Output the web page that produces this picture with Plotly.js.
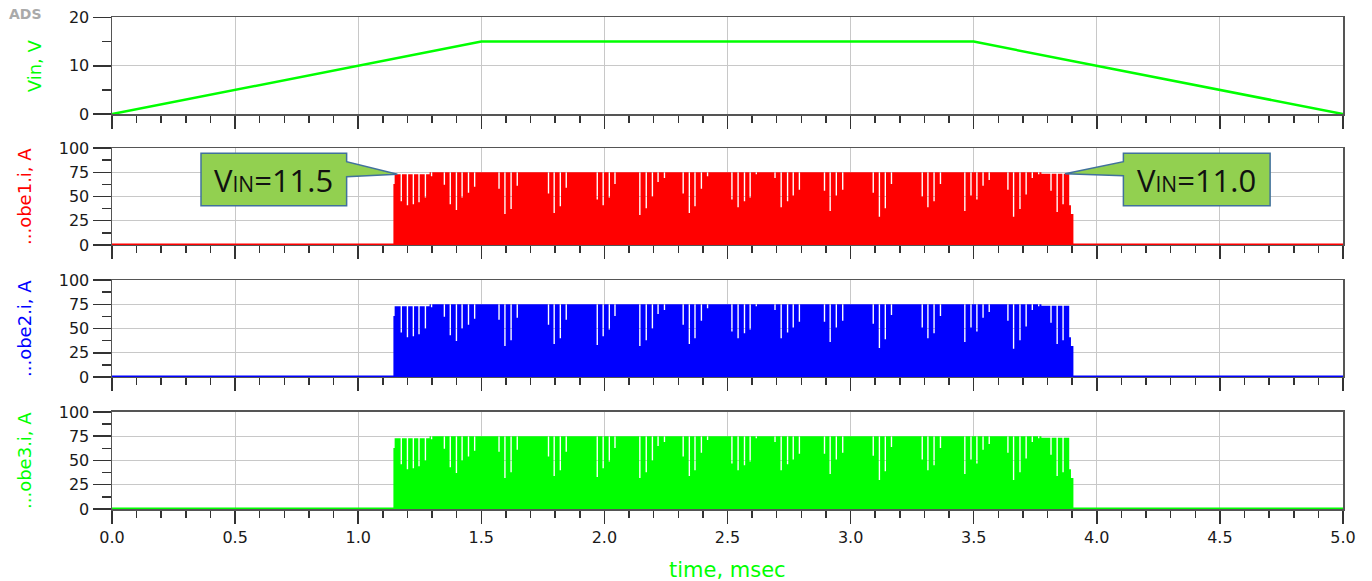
<!DOCTYPE html>
<html>
<head>
<meta charset="utf-8">
<script src="https://cdn.plot.ly/plotly-3.0.1.min.js"></script>
<style>html,body{margin:0;padding:0;background:#fff;}#chart{width:1372px;height:581px;}</style>
</head>
<body>
<div id="chart"></div>
<script>
// ---------------- data ----------------
const simTime = [0, 5.0];                 // msec, simulation span
const vinTime = [0, 1.5, 3.5, 5.0];       // msec
const vinVolt = [0, 15, 15, 0];           // V

// plateau of the switching-current envelope (boundaries in msec, level in A for each interval)
const levelTimes  = [1.143, 1.148, 1.29, 3.775, 3.888, 3.895, 3.905];
const levelValues = [63, 73, 75, 73.5, 41, 32];

// times of the low-peak cycles (msec)
const dipTimes = [1.175,1.200,1.224,1.247,1.273,1.298,1.350,1.374,1.399,1.422,1.448,1.473,
  1.572,1.596,1.621,1.646,1.773,1.796,1.821,1.845,1.971,1.995,2.020,2.043,
  2.144,2.170,2.195,2.218,2.244,2.320,2.345,2.368,2.394,2.419,2.518,2.543,2.569,2.592,2.617,
  2.693,2.718,2.744,2.767,2.792,2.894,2.917,2.942,2.968,3.092,3.117,3.141,3.166,
  3.291,3.314,3.339,3.365,3.464,3.489,3.513,3.538,3.563,3.639,3.662,3.688,3.713,3.738,3.764,
  3.814,3.839,3.863];
// peak current of those cycles (A)
const dipProbe1 = [45,41,42,44,49,71,62,42,36,49,54,60,58,32,37,61,53,33,40,59,47,41,49,63,
  31,38,50,65,69,53,33,40,58,71,47,39,45,49,73,69,39,45,51,57,56,35,51,57,54,29,38,63,
  50,39,45,63,35,51,47,61,67,57,29,37,52,69,73,56,34,42];
const dipProbe2 = [46,41,42,44,50,72,62,43,37,50,54,60,59,32,38,61,54,34,40,59,33,42,49,63,
  32,38,50,65,69,54,34,40,58,71,47,40,45,49,73,69,40,46,51,57,57,36,51,58,55,30,39,64,
  51,40,45,63,36,51,47,61,67,58,29,38,52,69,73,56,34,38];
const dipProbe3 = [46,41,42,44,50,72,62,43,37,50,54,60,59,32,38,61,54,34,40,59,33,42,49,63,
  32,38,50,65,69,54,34,40,58,71,47,40,45,49,73,69,40,46,51,57,57,36,51,58,55,30,39,64,
  51,40,45,63,36,51,47,61,67,58,30,38,52,69,73,56,34,38];

const xTicks = [0,0.5,1.0,1.5,2.0,2.5,3.0,3.5,4.0,4.5,5.0];
const xTickText = ['0.0','0.5','1.0','1.5','2.0','2.5','3.0','3.5','4.0','4.5','5.0'];

// ---------------- build envelopes ----------------
const HW = 0.0028;
function envelope(depths){
  const x=[levelTimes[0]], y=[0];
  let di=0;
  for(let s=0;s<levelValues.length;s++){
    const a=levelTimes[s], b=levelTimes[s+1], L=levelValues[s];
    x.push(a); y.push(L);
    while(di<dipTimes.length && dipTimes[di]<b){
      if(dipTimes[di]>=a){
        const td=dipTimes[di];
        x.push(td-HW,td-HW,td+HW,td+HW); y.push(L,depths[di],depths[di],L);
      }
      di++;
    }
    x.push(b); y.push(L);
  }
  x.push(levelTimes[levelTimes.length-1]); y.push(0);
  return {x,y};
}

const RED='#ff0000', BLUE='#0000ff', GREEN='#00ff00';
const traces=[];
traces.push({x:vinTime,y:vinVolt,xaxis:'x',yaxis:'y',mode:'lines',line:{color:GREEN,width:2.5},cliponaxis:false,hoverinfo:'skip'});
[[dipProbe1,RED,'2'],[dipProbe2,BLUE,'3'],[dipProbe3,GREEN,'4']].forEach(([d,c,k])=>{
  traces.push({x:simTime,y:[0,0],xaxis:'x'+k,yaxis:'y'+k,mode:'lines',line:{color:c,width:3},cliponaxis:false,hoverinfo:'skip'});
  const e=envelope(d);
  traces.push({x:e.x,y:e.y,xaxis:'x'+k,yaxis:'y'+k,mode:'lines',fill:'toself',fillcolor:c,line:{width:0,color:c},hoverinfo:'skip'});
});

// ---------------- layout ----------------
const FONT='DejaVu Sans';
function xAxis(anchor,labels){
  return {anchor:anchor,range:[0,5],tickmode:'array',tickvals:xTicks,ticktext:xTickText,
    showticklabels:labels,ticks:'outside',ticklen:13,tickwidth:1.5,tickcolor:'#333',
    minor:{dtick:0.1,tick0:0,ticks:'outside',ticklen:7,tickwidth:1.5,tickcolor:'#333',showgrid:false},
    showgrid:true,gridcolor:'#c8c8c8',gridwidth:1,showline:true,linecolor:'#555',linewidth:1.5,mirror:true,
    zeroline:false,tickfont:{family:FONT,size:16,color:'#1a1a1a'}};
}
function yAxis(dom,max,dt){
  return {domain:dom,range:[0,max],dtick:dt,tick0:0,ticks:'outside',ticklen:18,tickwidth:1.5,tickcolor:'#333',
    minor:{dtick:dt/2,ticks:'outside',ticklen:9,tickwidth:1.5,tickcolor:'#333',showgrid:false},
    showgrid:true,gridcolor:'#c8c8c8',gridwidth:1,showline:true,linecolor:'#555',linewidth:1.5,mirror:true,
    zeroline:false,tickfont:{family:FONT,size:16,color:'#1a1a1a'}};
}

function callout(xb0,xb1,yb0,yb1,p1,p2,tx,ty,side){
  let path;
  if(side==='right'){
    path=`M ${xb0},${yb1} L ${xb1},${yb1} L ${xb1},${p1} L ${tx},${ty} L ${xb1},${p2} L ${xb1},${yb0} L ${xb0},${yb0} Z`;
  } else {
    path=`M ${xb0},${yb1} L ${xb1},${yb1} L ${xb1},${yb0} L ${xb0},${yb0} L ${xb0},${p2} L ${tx},${ty} L ${xb0},${p1} Z`;
  }
  return {type:'path',xref:'x2',yref:'y2',path:path,fillcolor:'#92d050',line:{color:'#41719c',width:1.5},layer:'above'};
}

const layout={
  width:1372,height:581,margin:{l:112,r:29,t:17,b:72},
  paper_bgcolor:'#ffffff',plot_bgcolor:'#ffffff',showlegend:false,
  xaxis:xAxis('y',false), xaxis2:xAxis('y2',false), xaxis3:xAxis('y3',false), xaxis4:xAxis('y4',true),
  yaxis:yAxis([0.8028,0.999],20,10),
  yaxis2:yAxis([0.5366,0.7337],100,25),
  yaxis3:yAxis([0.2683,0.4654],100,25),
  yaxis4:yAxis([0,0.1972],100,25),
  shapes:[
    callout(0.3615,0.953,40.5,94.5,85.9,70.4,1.159,72.9,'right'),
    callout(4.108,4.704,40.5,94.5,85.9,71.5,3.871,73.4,'left')
  ],
  annotations:[
    {xref:'paper',yref:'paper',x:-0.0703,y:1.006,text:'<b>ADS</b>',showarrow:false,xanchor:'center',yanchor:'middle',font:{family:FONT,size:14,color:'#aaaaaa'}},
    {xref:'paper',yref:'paper',x:(34.5-112)/1231,y:(509-65.75)/492,text:'Vin, V',textangle:-90,showarrow:false,xanchor:'center',yanchor:'middle',font:{family:FONT,size:18,color:GREEN}},
    {xref:'paper',yref:'paper',x:(24.5-112)/1231,y:(509-196.5)/492,text:'...obe1.i, A',textangle:-90,showarrow:false,xanchor:'center',yanchor:'middle',font:{family:FONT,size:18,color:RED}},
    {xref:'paper',yref:'paper',x:(24.5-112)/1231,y:(509-328.5)/492,text:'...obe2.i, A',textangle:-90,showarrow:false,xanchor:'center',yanchor:'middle',font:{family:FONT,size:18,color:BLUE}},
    {xref:'paper',yref:'paper',x:(24.5-112)/1231,y:(509-460.5)/492,text:'...obe3.i, A',textangle:-90,showarrow:false,xanchor:'center',yanchor:'middle',font:{family:FONT,size:18,color:GREEN}},
    {xref:'paper',yref:'paper',x:0.5,y:(509-570)/492,text:'time, msec',showarrow:false,xanchor:'center',yanchor:'middle',font:{family:FONT,size:21,color:GREEN}},
    {xref:'x2',yref:'y2',x:(0.3615+0.953)/2,y:67.5,text:'V<span style="font-size:21px">IN</span>=11.5',showarrow:false,xanchor:'center',yanchor:'middle',font:{family:'Open Sans',size:31,color:'#111111'}},
    {xref:'x2',yref:'y2',x:(4.108+4.704)/2,y:67.5,text:'V<span style="font-size:21px">IN</span>=11.0',showarrow:false,xanchor:'center',yanchor:'middle',font:{family:'Open Sans',size:31,color:'#111111'}}
  ]
};

Plotly.newPlot('chart',traces,layout,{staticPlot:true,displayModeBar:false});
</script>
</body>
</html>
